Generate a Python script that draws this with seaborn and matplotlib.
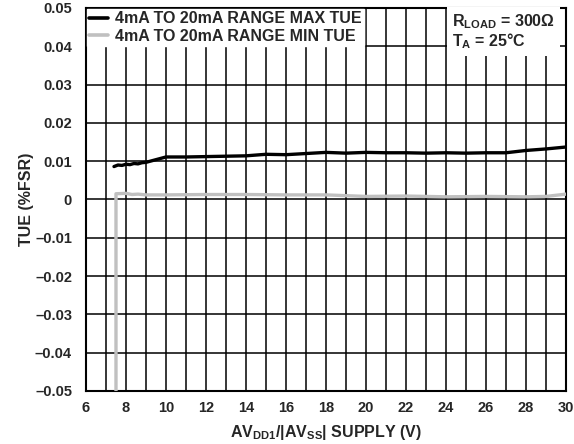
import matplotlib
matplotlib.use("Agg")
import matplotlib.pyplot as plt
import numpy as np
import pandas as pd
import seaborn as sns

# supply voltage (V) and TUE (%FSR)
supply_max = [7.4, 7.6, 7.8, 8.0, 8.2, 8.4, 8.6, 8.8, 9.0, 10, 11, 12, 13, 14, 15, 16,
              17, 18, 19, 20, 21, 22, 23, 24, 25, 26, 27, 28, 29, 30]
tue_max = [0.0086, 0.0090, 0.0089, 0.0092, 0.0091, 0.0094, 0.0093, 0.0096, 0.0097,
           0.0111, 0.0111, 0.0112, 0.0113, 0.0114, 0.0118, 0.0117, 0.0120, 0.0123,
           0.0121, 0.0123, 0.0122, 0.0122, 0.0121, 0.0122, 0.0121, 0.0122, 0.0122,
           0.0128, 0.0132, 0.0137]

supply_min = [7.5, 7.5, 8.0, 8.3, 8.6, 9.0, 10, 12, 14, 16, 18, 20, 22, 24, 26,
              28, 29, 30]
tue_min = [-0.06, 0.0015, 0.0016, 0.0013, 0.0014, 0.0012, 0.0012, 0.0013, 0.0013,
           0.0012, 0.0012, 0.0008, 0.0009, 0.0007, 0.0008, 0.0007, 0.0008, 0.0014]

xticks = list(range(6, 31, 2))
yticks = [0.05, 0.04, 0.03, 0.02, 0.01, 0, -0.01, -0.02, -0.03, -0.04, -0.05]
ytick_labels = ["0.05", "0.04", "0.03", "0.02", "0.01", "0",
                "\u20130.01", "\u20130.02", "\u20130.03", "\u20130.04", "\u20130.05"]

sns.set_style("white")
plt.rcParams["font.family"] = ["Liberation Sans", "DejaVu Sans"]
plt.rcParams["font.weight"] = "bold"
plt.rcParams["mathtext.fontset"] = "custom"
plt.rcParams["mathtext.rm"] = "Liberation Sans:bold"
plt.rcParams["mathtext.bf"] = "Liberation Sans:bold"
plt.rcParams["mathtext.default"] = "bf"

fig = plt.figure(figsize=(5.74, 4.44), dpi=100)
ax = fig.add_axes([0.1498, 0.1194, 0.8362, 0.8626])

df_max = pd.DataFrame({"v": supply_max, "tue": tue_max})
df_min = pd.DataFrame({"v": supply_min, "tue": tue_min})
sns.lineplot(data=df_max, x="v", y="tue", ax=ax, color="black", lw=2.4, sort=False,
             estimator=None, label="4mA TO 20mA RANGE MAX TUE", zorder=3)
sns.lineplot(data=df_min, x="v", y="tue", ax=ax, color="#c0c0c0", lw=2.4, sort=False,
             estimator=None, label="4mA TO 20mA RANGE MIN TUE", zorder=3)

ax.set_xlim(6, 30)
ax.set_ylim(-0.05, 0.05)
ax.set_xticks(xticks)
ax.set_xticks(np.arange(7, 30, 2), minor=True)
ax.set_yticks(yticks)
ax.set_yticklabels(ytick_labels)
ax.tick_params(which="both", length=0, labelsize=10.5)
ax.tick_params(axis="y", pad=10)
ax.tick_params(axis="x", pad=7)
for lab in ax.get_xticklabels() + ax.get_yticklabels():
    lab.set_fontweight("bold")
ax.grid(True, which="both", color="black", lw=1.1)
ax.set_axisbelow(True)
for s in ax.spines.values():
    s.set_color("black")
    s.set_linewidth(1.5)

ax.set_xlabel(r"AV$_{DD1}$/|AV$_{SS}$| SUPPLY (V)", fontsize=11.5, fontweight="bold", labelpad=6)
ax.set_ylabel("TUE (%FSR)", fontsize=11.5, fontweight="bold", labelpad=1)

leg = ax.legend(loc="upper left", bbox_to_anchor=(0, 1), borderaxespad=0.05, frameon=True,
                fancybox=False, edgecolor="white", framealpha=1, fontsize=11.5,
                handlelength=1.2, handletextpad=0.4, labelspacing=0.15, borderpad=0.15)
for t in leg.get_texts():
    t.set_fontweight("bold")
for h in leg.get_lines():
    h.set_linewidth(2.6)
leg.set_zorder(5)

ax.text(0.7625, 0.99, "R$_{LOAD}$ = 300Ω\nT$_A$ = 25°C", transform=ax.transAxes,
        ha="left", va="top", fontsize=11.5, fontweight="bold", linespacing=1.05, zorder=6,
        bbox=dict(facecolor="white", edgecolor="none", boxstyle="square,pad=0.3"))

fig.savefig("out.png", dpi=100)
